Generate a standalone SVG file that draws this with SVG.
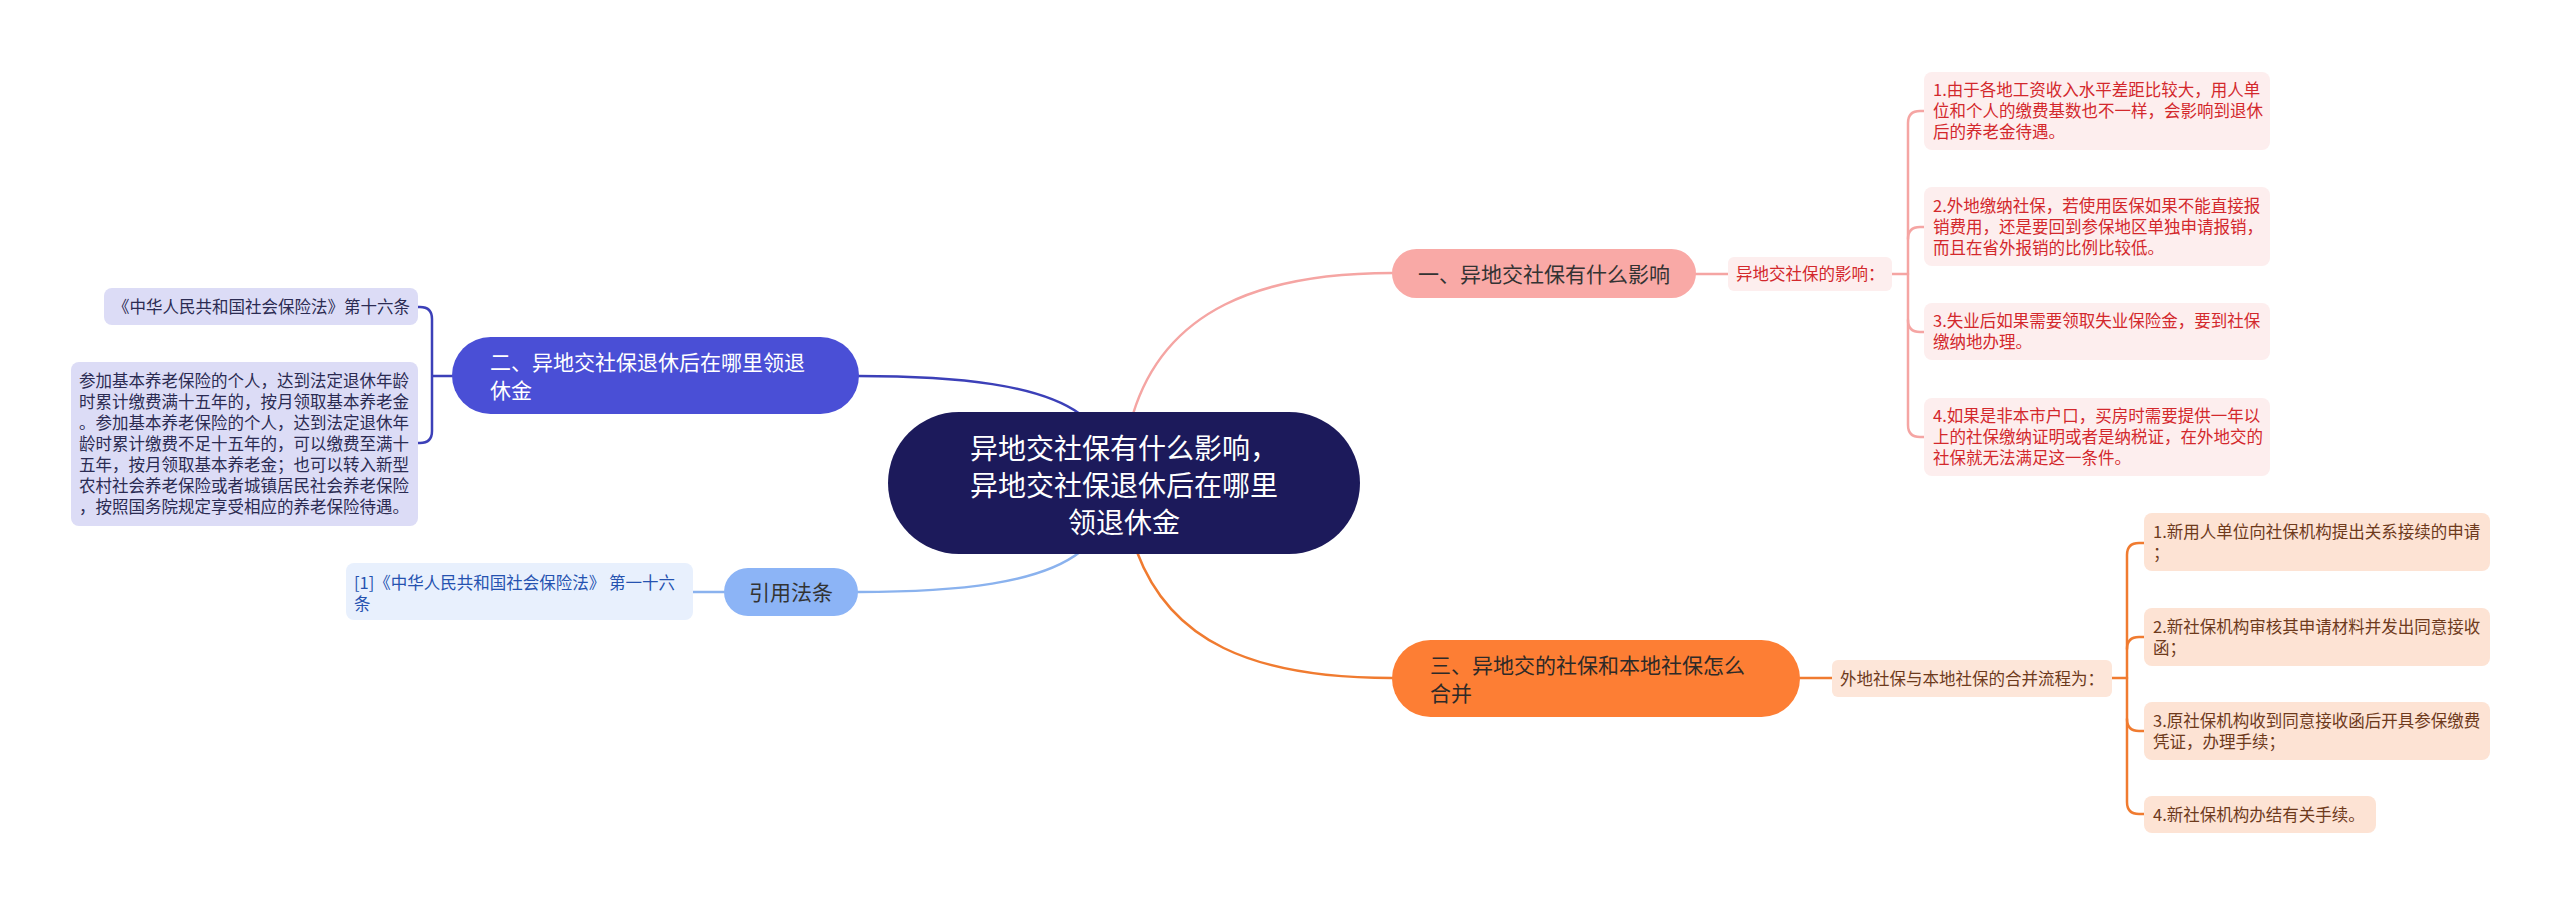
<svg xmlns="http://www.w3.org/2000/svg" width="2560" height="905" viewBox="0 0 2560 905">
<style>
text{font-family:"Noto Sans CJK SC","Noto Sans",sans-serif;}
.c{fill:none;stroke-width:2.5;stroke-linecap:round}
.pk{stroke:#f5a5a3}
.or{stroke:#f07b30}
.db{stroke:#3c40b8}
.lb{stroke:#8ab2ee}
.leaf{font-size:16.5px}
.n{font-size:21px}
</style>
<rect width="2560" height="905" fill="#ffffff"/>
<g id="connectors">
<path class="c pk" d="M1133,414 C1165,310 1260,273 1392,273"/>
<path class="c db" d="M858,376 C960,376 1040,385 1080,414"/>
<path class="c lb" d="M858,592 C960,592 1040,583 1080,552"/>
<path class="c or" d="M1137,552 C1170,640 1250,678 1392,678"/>
<path class="c pk" d="M1696,274 H1728 M1892,274 H1908"/>
<path class="c pk" d="M1924,111 H1920 Q1908,111 1908,123 V425 Q1908,437 1920,437 H1924"/>
<path class="c pk" d="M1908,239 Q1908,227 1920,227 H1924"/>
<path class="c pk" d="M1908,320 Q1908,332 1920,332 H1924"/>
<path class="c or" d="M1800,678 H1832 M2112,678 H2127"/>
<path class="c or" d="M2144,543 H2139 Q2127,543 2127,555 V802 Q2127,814 2139,814 H2144"/>
<path class="c or" d="M2127,649 Q2127,637 2139,637 H2144"/>
<path class="c or" d="M2127,719 Q2127,731 2139,731 H2144"/>
<path class="c db" d="M418,307 H420 Q432,307 432,319 V431 Q432,443 420,443 H418 M432,376 H452"/>
<path class="c lb" d="M693,592 H724"/>
</g>
<g id="root">
<rect x="888" y="412" width="472" height="142" rx="71" fill="#1c1a5b"/>
<text font-size="28" fill="#ffffff" text-anchor="middle"><tspan x="1124" y="459">异地交社保有什么影响，</tspan><tspan x="1124" y="496">异地交社保退休后在哪里</tspan><tspan x="1124" y="533">领退休金</tspan></text>
</g>
<g id="node1">
<rect x="1392" y="249" width="304" height="49" rx="24.5" fill="#f9a9a6"/>
<text class="n" x="1544" y="281.5" fill="#333333" text-anchor="middle">一、异地交社保有什么影响</text>
</g>
<g id="node1-sub">
<rect x="1728" y="257" width="164" height="34" rx="6" fill="#fdeeee"/>
<text class="leaf" x="1736" y="280" fill="#d3282c">异地交社保的影响：</text>
</g>
<g id="node1-leaf1">
<rect x="1924" y="72" width="346" height="78" rx="8" fill="#fdeeee"/>
<text class="leaf" fill="#d3282c"><tspan x="1933" y="96">1.由于各地工资收入水平差距比较大，用人单</tspan><tspan x="1933" y="117">位和个人的缴费基数也不一样，会影响到退休</tspan><tspan x="1933" y="138">后的养老金待遇。</tspan></text>
</g>
<g id="node1-leaf2">
<rect x="1924" y="187" width="346" height="79" rx="8" fill="#fdeeee"/>
<text class="leaf" fill="#d3282c"><tspan x="1933" y="212">2.外地缴纳社保，若使用医保如果不能直接报</tspan><tspan x="1933" y="233">销费用，还是要回到参保地区单独申请报销，</tspan><tspan x="1933" y="254">而且在省外报销的比例比较低。</tspan></text>
</g>
<g id="node1-leaf3">
<rect x="1924" y="303" width="346" height="57" rx="8" fill="#fdeeee"/>
<text class="leaf" fill="#d3282c"><tspan x="1933" y="327">3.失业后如果需要领取失业保险金，要到社保</tspan><tspan x="1933" y="348">缴纳地办理。</tspan></text>
</g>
<g id="node1-leaf4">
<rect x="1924" y="398" width="346" height="78" rx="8" fill="#fdeeee"/>
<text class="leaf" fill="#d3282c"><tspan x="1933" y="422">4.如果是非本市户口，买房时需要提供一年以</tspan><tspan x="1933" y="443">上的社保缴纳证明或者是纳税证，在外地交的</tspan><tspan x="1933" y="464">社保就无法满足这一条件。</tspan></text>
</g>
<g id="node3">
<rect x="1392" y="640" width="408" height="77" rx="38.5" fill="#fd7e34"/>
<text class="n" fill="#2e2a28"><tspan x="1430" y="673">三、异地交的社保和本地社保怎么</tspan><tspan x="1430" y="701">合并</tspan></text>
</g>
<g id="node3-sub">
<rect x="1832" y="660" width="280" height="37" rx="6" fill="#fde6d9"/>
<text class="leaf" x="1840" y="684.5" fill="#6e3a1c">外地社保与本地社保的合并流程为：</text>
</g>
<g id="node3-leaf1">
<rect x="2144" y="513" width="346" height="58" rx="8" fill="#fde3d4"/>
<text class="leaf" fill="#6e3a1c"><tspan x="2153" y="538">1.新用人单位向社保机构提出关系接续的申请</tspan><tspan x="2153" y="559">；</tspan></text>
</g>
<g id="node3-leaf2">
<rect x="2144" y="608" width="346" height="58" rx="8" fill="#fde3d4"/>
<text class="leaf" fill="#6e3a1c"><tspan x="2153" y="633">2.新社保机构审核其申请材料并发出同意接收</tspan><tspan x="2153" y="654">函；</tspan></text>
</g>
<g id="node3-leaf3">
<rect x="2144" y="702" width="346" height="58" rx="8" fill="#fde3d4"/>
<text class="leaf" fill="#6e3a1c"><tspan x="2153" y="727">3.原社保机构收到同意接收函后开具参保缴费</tspan><tspan x="2153" y="748">凭证，办理手续；</tspan></text>
</g>
<g id="node3-leaf4">
<rect x="2144" y="796" width="232" height="37" rx="8" fill="#fde3d4"/>
<text class="leaf" x="2153" y="821" fill="#6e3a1c">4.新社保机构办结有关手续。</text>
</g>
<g id="node2">
<rect x="452" y="337" width="407" height="77" rx="38.5" fill="#4a4fd6"/>
<text class="n" fill="#ffffff"><tspan x="490" y="370">二、异地交社保退休后在哪里领退</tspan><tspan x="490" y="398">休金</tspan></text>
</g>
<g id="node2-leaf1">
<rect x="104" y="288" width="314" height="37" rx="8" fill="#dcdcf6"/>
<text class="leaf" x="410" y="313" fill="#2b2b52" text-anchor="end">《中华人民共和国社会保险法》第十六条</text>
</g>
<g id="node2-leaf2">
<rect x="71" y="362" width="347" height="164" rx="8" fill="#dcdcf6"/>
<text class="leaf" fill="#2b2b52"><tspan x="79" y="387">参加基本养老保险的个人，达到法定退休年龄</tspan><tspan x="79" y="408">时累计缴费满十五年的，按月领取基本养老金</tspan><tspan x="79" y="429">。参加基本养老保险的个人，达到法定退休年</tspan><tspan x="79" y="450">龄时累计缴费不足十五年的，可以缴费至满十</tspan><tspan x="79" y="471">五年，按月领取基本养老金；也可以转入新型</tspan><tspan x="79" y="492">农村社会养老保险或者城镇居民社会养老保险</tspan><tspan x="79" y="513">，按照国务院规定享受相应的养老保险待遇。</tspan></text>
</g>
<g id="node4">
<rect x="724" y="568" width="134" height="48" rx="24" fill="#8cb4f6"/>
<text class="n" x="791" y="600" fill="#333333" text-anchor="middle">引用法条</text>
</g>
<g id="node4-leaf1">
<rect x="346" y="563" width="347" height="57" rx="8" fill="#e8f0fd"/>
<text class="leaf" fill="#2552b0"><tspan x="354" y="589">[1]《中华人民共和国社会保险法》 第一十六</tspan><tspan x="354" y="610">条</tspan></text>
</g>
</svg>
